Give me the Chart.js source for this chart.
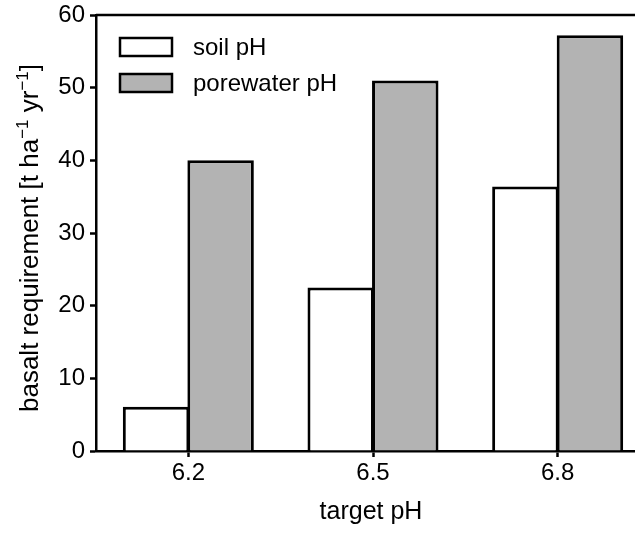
<!DOCTYPE html>
<html>
<head>
<meta charset="utf-8">
<script src="https://cdn.jsdelivr.net/npm/chart.js@4/dist/chart.umd.min.js"></script>
<style>
  html, body { margin: 0; padding: 0; background: #fff; }
  #wrap { width: 635px; height: 534px; overflow: hidden; }
</style>
</head>
<body>
<div id="wrap"><canvas id="chart" width="655" height="534"></canvas></div>
<script>
// target pH categories
const categories = ["6.2", "6.5", "6.8"];
// basalt requirement [t ha-1 yr-1]
const soilPH = [6.1, 22.5, 36.4];
const porewaterPH = [40.0, 51.0, 57.2];
const yTicks = [0, 10, 20, 30, 40, 50, 60];

const FONT = "'Liberation Sans', Arial, sans-serif";
const LINE = 2.5;

// legend, frame top line and axis titles drawn by hand
const decorations = {
  id: "decorations",
  afterDraw(chart) {
    const ctx = chart.ctx;
    const area = chart.chartArea;
    ctx.save();

    // top frame line
    ctx.strokeStyle = "#000";
    ctx.lineWidth = LINE;
    ctx.beginPath();
    ctx.moveTo(area.left, area.top);
    ctx.lineTo(area.right, area.top);
    ctx.stroke();

    // legend inside the plot
    ctx.font = "24px " + FONT;
    ctx.textBaseline = "middle";
    chart.data.datasets.forEach((ds, i) => {
      const y = 38 + i * 36;
      ctx.fillStyle = ds.backgroundColor;
      ctx.fillRect(120, y, 52, 18);
      ctx.strokeStyle = "#000";
      ctx.lineWidth = LINE;
      ctx.strokeRect(120, y, 52, 18);
      ctx.fillStyle = "#000";
      ctx.fillText(ds.label, 193, y + 10);
    });

    // x title
    ctx.font = "25px " + FONT;
    ctx.textAlign = "center";
    ctx.textBaseline = "alphabetic";
    ctx.fillText("target pH", (area.left + area.right) / 2 - 2, 519);

    // y title with superscripts
    const parts = [
      ["basalt requirement [t ha", false],
      ["\u22121", true],
      [" yr", false],
      ["\u22121", true],
      ["]", false]
    ];
    const big = "26px " + FONT, small = "17px " + FONT;
    let total = 0;
    parts.forEach(([t, sup]) => {
      ctx.font = sup ? small : big;
      total += ctx.measureText(t).width;
    });
    ctx.translate(38, 238);
    ctx.rotate(-Math.PI / 2);
    ctx.textAlign = "left";
    let x = -total / 2;
    parts.forEach(([t, sup]) => {
      ctx.font = sup ? small : big;
      ctx.fillText(t, x, sup ? -10 : 0);
      x += ctx.measureText(t).width;
    });
    ctx.restore();
  }
};

new Chart(document.getElementById("chart"), {
  type: "bar",
  data: {
    labels: categories,
    datasets: [
      {
        label: "soil pH",
        data: soilPH,
        backgroundColor: "#ffffff",
        borderColor: "#000000",
        borderWidth: 3,
        categoryPercentage: 0.699,
        barPercentage: 1.03
      },
      {
        label: "porewater pH",
        data: porewaterPH,
        backgroundColor: "#b3b3b3",
        borderColor: "#000000",
        borderWidth: 3,
        categoryPercentage: 0.699,
        barPercentage: 1.03
      }
    ]
  },
  options: {
    responsive: false,
    animation: false,
    layout: { padding: { top: 15, right: 5, left: 0, bottom: 0 } },
    plugins: {
      legend: { display: false },
      tooltip: { enabled: false }
    },
    scales: {
      x: {
        offset: true,
        grid: {
          offset: false,
          drawOnChartArea: false,
          drawTicks: true,
          tickLength: 6,
          tickWidth: LINE,
          tickColor: "#000"
        },
        border: { display: true, color: "#000", width: LINE },
        ticks: { color: "#000", font: { family: FONT, size: 24 }, padding: 2 },
        afterFit(scale) {
          scale.height = 83;
          scale.paddingLeft = 0;
          scale.paddingRight = 0;
        }
      },
      y: {
        min: 0,
        max: 60,
        afterBuildTicks(scale) { scale.ticks = yTicks.map(v => ({ value: v })); },
        grid: {
          drawOnChartArea: false,
          drawTicks: true,
          tickLength: 6,
          tickWidth: LINE,
          tickColor: "#000"
        },
        border: { display: true, color: "#000", width: LINE },
        ticks: { color: "#000", font: { family: FONT, size: 24 }, padding: 5 },
        afterFit(scale) {
          scale.width = 96;
          scale.paddingTop = 0;
          scale.paddingBottom = 0;
        }
      }
    }
  },
  plugins: [decorations]
});
</script>
</body>
</html>
